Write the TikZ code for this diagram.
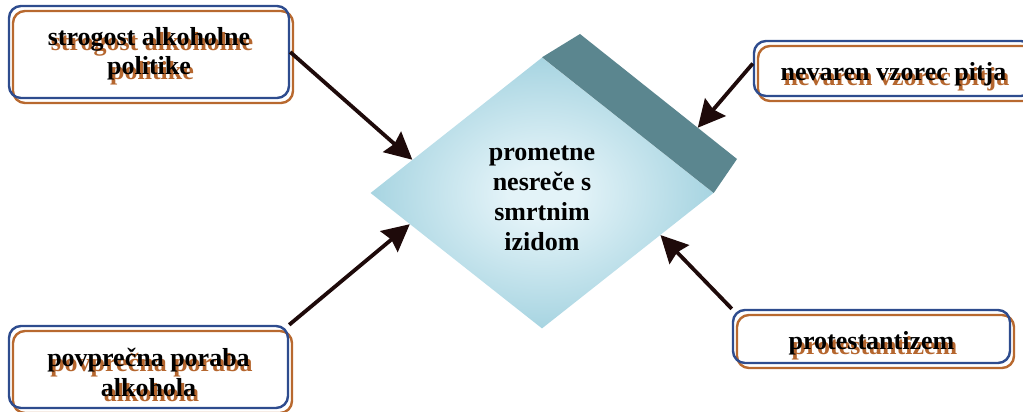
\documentclass[tikz,border=0pt]{standalone}
\usepackage{fontspec}
\setmainfont{Liberation Serif}
\usetikzlibrary{arrows.meta,shapes.geometric,calc}

\definecolor{frameblue}{HTML}{2E4C8E}
\definecolor{frameorange}{HTML}{B8692F}
\definecolor{txtshadow}{HTML}{B5662E}
\definecolor{rimface}{HTML}{5B868F}
\definecolor{glowin}{HTML}{E3F3F8}
\definecolor{glowout}{HTML}{8FC8D8}
\definecolor{arrowink}{HTML}{1E0A0A}

\pgfdeclareradialshading{faceglow}{\pgfpoint{0bp}{0bp}}{%
  color(0bp)=(glowin); color(5bp)=(glowin); color(33bp)=(glowout); color(50bp)=(glowout)}

% centred multi-line text; the block is centred on the node centre, moved down by #1
\newcommand\stackedtext[1]{\begin{tabular}{@{}c@{}}#1\end{tabular}}
\newcommand\centredtext[2][0pt]{%
  \raisebox{\dimexpr-#1-6.5pt\relax}[0pt][0pt]{\stackedtext{#2}}}
% the same, with an offset orange copy behind the black text
\newcommand\shadowedtext[2][0pt]{%
  \raisebox{\dimexpr-#1-6.5pt\relax}[0pt][0pt]{%
    \rlap{\hspace{3pt}\raisebox{-5pt}{\color{txtshadow}\stackedtext{#2}}}%
    \stackedtext{#2}}}

\tikzset{
  bigfont/.style={font=\bfseries\fontsize{26}{29.5}\selectfont},
  factor/.style={rectangle, rounded corners=12pt, draw=frameblue, line width=2.4pt,
    inner sep=0pt, bigfont,
    preaction={fill=white},
    preaction={draw=frameorange, line width=2.4pt,
      transform canvas={xshift=4pt,yshift=-5pt}}},
  outcome/.style={shape=diamond, minimum width=343pt, minimum height=271pt,
    inner sep=0pt, shading=faceglow, font=\bfseries\fontsize{26}{30}\selectfont},
  influence/.style={draw=arrowink, line width=3.8pt,
    -{Stealth[length=27pt,width=27pt,inset=3pt]}}
}

\begin{document}
\begin{tikzpicture}[x=1pt,y=-1pt]
  \useasboundingbox (0,0) rectangle (1023,412);
  \clip (0,0) rectangle (1023,412);

  % central outcome: shaded rhombus with a darker rim along its upper right edge
  \node[outcome] (acc) at (542,193)
    {\centredtext[6pt]{prometne\\nesreče s\\smrtnim\\izidom}};
  \coordinate (rimtop) at (580,34);
  \coordinate (rimright) at (737,159);
  \fill[rimface] (acc.north) -- (rimtop) -- (rimright) -- (acc.east) -- cycle;

  % the four factors
  \node[factor, minimum width=280pt, minimum height=92pt] (b1) at (149,52)
    {\shadowedtext[2pt]{strogost alkoholne\\politike}};
  \node[factor, minimum width=279pt, minimum height=55pt] (b2) at (893.5,68.5)
    {\shadowedtext[6pt]{nevaren vzorec pitja}};
  \node[factor, minimum width=279pt, minimum height=82pt] (b3) at (148.5,367)
    {\shadowedtext[8.5pt]{povprečna poraba\\alkohola}};
  \node[factor, minimum width=277pt, minimum height=53pt] (b4) at (871.5,336.5)
    {\shadowedtext[7pt]{protestantizem}};

  % arrow tips on the rhombus border
  \coordinate (tipA) at ($(acc.west)!0.245!(acc.north)$);
  \coordinate (tipB) at ($(rimtop)!0.75!(rimright)$);
  \coordinate (tipC) at ($(acc.west)!0.23!(acc.south)$);
  \coordinate (tipD) at ($(acc.east)!0.31!(acc.south)$);

  \draw[influence] (b1.east) -- (tipA);
  \draw[influence] ([yshift=5pt]b2.west) -- (tipB);
  \draw[influence] (b3.north east) -- (tipC);
  \draw[influence] (b4.north west) -- (tipD);
\end{tikzpicture}
\end{document}
